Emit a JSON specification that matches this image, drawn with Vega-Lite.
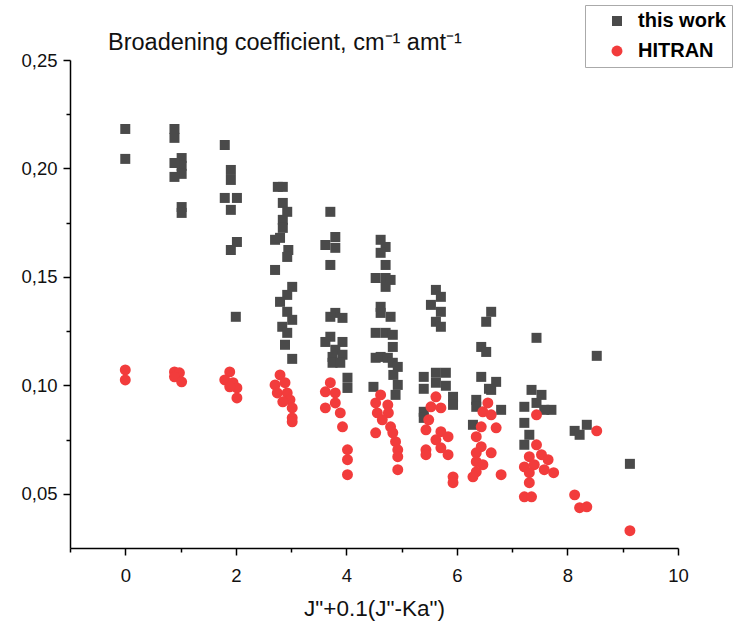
{
  "$schema": "https://vega.github.io/schema/vega-lite/v6.json",
  "width": 608,
  "height": 488,
  "autosize": "none",
  "padding": {"left": 70, "top": 60, "right": 58, "bottom": 77},
  "background": "white",
  "config": {"view": {"stroke": null}, "font": "Liberation Sans"},
  "title": {"text": "Broadening coefficient, cm⁻¹ amt⁻¹", "anchor": "start", "frame": "group", "dx": 38, "dy": 56, "offset": 6, "fontSize": 23.5, "fontWeight": "normal", "font": "Liberation Sans", "color": "#111"},
  "data": {"values": [
    {"s":"this work","x":0,"y":0.2182},{"s":"this work","x":0,"y":0.2044},
    {"s":"this work","x":0.89,"y":0.2182},{"s":"this work","x":0.89,"y":0.2141},{"s":"this work","x":1.02,"y":0.2048},{"s":"this work","x":1.02,"y":0.2012},{"s":"this work","x":1.02,"y":0.1975},{"s":"this work","x":0.89,"y":0.2025},{"s":"this work","x":0.89,"y":0.1961},{"s":"this work","x":1.02,"y":0.1822},{"s":"this work","x":1.02,"y":0.1795},
    {"s":"this work","x":1.8,"y":0.2108},{"s":"this work","x":1.91,"y":0.1993},{"s":"this work","x":1.91,"y":0.1947},{"s":"this work","x":1.8,"y":0.1864},{"s":"this work","x":2.02,"y":0.1864},{"s":"this work","x":1.91,"y":0.1809},{"s":"this work","x":2.02,"y":0.1661},{"s":"this work","x":1.91,"y":0.1624},{"s":"this work","x":2.0,"y":0.1316},
    {"s":"this work","x":2.76,"y":0.1915},{"s":"this work","x":2.85,"y":0.1915},{"s":"this work","x":2.85,"y":0.1841},{"s":"this work","x":2.93,"y":0.18},{"s":"this work","x":2.85,"y":0.1763},{"s":"this work","x":2.85,"y":0.1726},{"s":"this work","x":2.71,"y":0.1671},{"s":"this work","x":2.8,"y":0.168},{"s":"this work","x":2.95,"y":0.1624},{"s":"this work","x":2.93,"y":0.1592},{"s":"this work","x":2.71,"y":0.1532},{"s":"this work","x":3.02,"y":0.1454},{"s":"this work","x":2.93,"y":0.1417},{"s":"this work","x":2.8,"y":0.1385},{"s":"this work","x":2.93,"y":0.1339},{"s":"this work","x":3.02,"y":0.1302},{"s":"this work","x":2.84,"y":0.127},{"s":"this work","x":2.93,"y":0.1242},{"s":"this work","x":2.89,"y":0.1187},{"s":"this work","x":3.02,"y":0.1122},
    {"s":"this work","x":3.71,"y":0.18},{"s":"this work","x":3.8,"y":0.1684},{"s":"this work","x":3.62,"y":0.1647},{"s":"this work","x":3.8,"y":0.1634},{"s":"this work","x":3.71,"y":0.1555},{"s":"this work","x":3.8,"y":0.1334},{"s":"this work","x":3.71,"y":0.1316},{"s":"this work","x":3.93,"y":0.1311},{"s":"this work","x":3.71,"y":0.1224},{"s":"this work","x":3.62,"y":0.12},{"s":"this work","x":3.93,"y":0.12},{"s":"this work","x":3.8,"y":0.1164},{"s":"this work","x":3.75,"y":0.1131},{"s":"this work","x":3.93,"y":0.1141},{"s":"this work","x":3.75,"y":0.1104},{"s":"this work","x":3.89,"y":0.1104},{"s":"this work","x":4.02,"y":0.1035},{"s":"this work","x":4.02,"y":0.0988},
    {"s":"this work","x":4.62,"y":0.1671},{"s":"this work","x":4.71,"y":0.1638},{"s":"this work","x":4.62,"y":0.1611},{"s":"this work","x":4.71,"y":0.1555},{"s":"this work","x":4.53,"y":0.1495},{"s":"this work","x":4.71,"y":0.1495},{"s":"this work","x":4.8,"y":0.1486},{"s":"this work","x":4.71,"y":0.1454},{"s":"this work","x":4.62,"y":0.1362},{"s":"this work","x":4.62,"y":0.1334},{"s":"this work","x":4.8,"y":0.1316},{"s":"this work","x":4.53,"y":0.1242},{"s":"this work","x":4.71,"y":0.1242},{"s":"this work","x":4.84,"y":0.1233},{"s":"this work","x":4.84,"y":0.1177},{"s":"this work","x":4.53,"y":0.1127},{"s":"this work","x":4.62,"y":0.1131},{"s":"this work","x":4.75,"y":0.1127},{"s":"this work","x":4.84,"y":0.1104},{"s":"this work","x":4.93,"y":0.1085},{"s":"this work","x":4.49,"y":0.0993},{"s":"this work","x":4.85,"y":0.1048},{"s":"this work","x":4.93,"y":0.1002},{"s":"this work","x":4.89,"y":0.0956},
    {"s":"this work","x":5.62,"y":0.144},{"s":"this work","x":5.71,"y":0.1408},{"s":"this work","x":5.53,"y":0.1371},{"s":"this work","x":5.71,"y":0.1339},{"s":"this work","x":5.62,"y":0.1293},{"s":"this work","x":5.71,"y":0.127},{"s":"this work","x":5.4,"y":0.1039},{"s":"this work","x":5.62,"y":0.1058},{"s":"this work","x":5.8,"y":0.1058},{"s":"this work","x":5.4,"y":0.0984},{"s":"this work","x":5.62,"y":0.1012},{"s":"this work","x":5.8,"y":0.0998},{"s":"this work","x":5.93,"y":0.0947},{"s":"this work","x":5.93,"y":0.091},{"s":"this work","x":5.4,"y":0.0878},{"s":"this work","x":5.4,"y":0.085},
    {"s":"this work","x":6.62,"y":0.1339},{"s":"this work","x":6.53,"y":0.1293},{"s":"this work","x":6.44,"y":0.1177},{"s":"this work","x":6.53,"y":0.1154},{"s":"this work","x":6.44,"y":0.1039},{"s":"this work","x":6.71,"y":0.1016},{"s":"this work","x":6.58,"y":0.0984},{"s":"this work","x":6.62,"y":0.0979},{"s":"this work","x":6.35,"y":0.0933},{"s":"this work","x":6.35,"y":0.0901},{"s":"this work","x":6.8,"y":0.0887},{"s":"this work","x":6.29,"y":0.0818},
    {"s":"this work","x":7.44,"y":0.1219},{"s":"this work","x":7.35,"y":0.0979},{"s":"this work","x":7.53,"y":0.0956},{"s":"this work","x":7.44,"y":0.0919},{"s":"this work","x":7.71,"y":0.0887},{"s":"this work","x":7.58,"y":0.0887},{"s":"this work","x":7.22,"y":0.0901},{"s":"this work","x":7.22,"y":0.0827},{"s":"this work","x":7.31,"y":0.0772},{"s":"this work","x":7.22,"y":0.0726},
    {"s":"this work","x":8.13,"y":0.079},{"s":"this work","x":8.22,"y":0.0772},{"s":"this work","x":8.35,"y":0.0818},{"s":"this work","x":8.53,"y":0.1136},{"s":"this work","x":9.13,"y":0.0638},
    {"s":"HITRAN","x":0,"y":0.1071},{"s":"HITRAN","x":0,"y":0.1025},
    {"s":"HITRAN","x":0.89,"y":0.1062},{"s":"HITRAN","x":0.98,"y":0.1058},{"s":"HITRAN","x":0.89,"y":0.1039},{"s":"HITRAN","x":1.02,"y":0.1016},
    {"s":"HITRAN","x":1.89,"y":0.1062},{"s":"HITRAN","x":1.8,"y":0.1025},{"s":"HITRAN","x":1.95,"y":0.1012},{"s":"HITRAN","x":2.02,"y":0.0988},{"s":"HITRAN","x":1.89,"y":0.0993},{"s":"HITRAN","x":2.02,"y":0.0942},
    {"s":"HITRAN","x":2.8,"y":0.1048},{"s":"HITRAN","x":2.71,"y":0.1002},{"s":"HITRAN","x":2.89,"y":0.1012},{"s":"HITRAN","x":2.75,"y":0.0965},{"s":"HITRAN","x":2.93,"y":0.0965},{"s":"HITRAN","x":2.98,"y":0.0933},{"s":"HITRAN","x":2.85,"y":0.0924},{"s":"HITRAN","x":3.02,"y":0.0896},{"s":"HITRAN","x":3.02,"y":0.085},{"s":"HITRAN","x":3.02,"y":0.0832},
    {"s":"HITRAN","x":3.71,"y":0.1012},{"s":"HITRAN","x":3.62,"y":0.097},{"s":"HITRAN","x":3.8,"y":0.0965},{"s":"HITRAN","x":3.62,"y":0.0896},{"s":"HITRAN","x":3.8,"y":0.0919},{"s":"HITRAN","x":3.89,"y":0.0873},{"s":"HITRAN","x":3.93,"y":0.0809},{"s":"HITRAN","x":4.02,"y":0.0703},{"s":"HITRAN","x":4.02,"y":0.0657},{"s":"HITRAN","x":4.02,"y":0.0588},
    {"s":"HITRAN","x":4.62,"y":0.0956},{"s":"HITRAN","x":4.53,"y":0.0919},{"s":"HITRAN","x":4.75,"y":0.091},{"s":"HITRAN","x":4.56,"y":0.0873},{"s":"HITRAN","x":4.76,"y":0.0873},{"s":"HITRAN","x":4.65,"y":0.0841},{"s":"HITRAN","x":4.8,"y":0.0809},{"s":"HITRAN","x":4.53,"y":0.0781},{"s":"HITRAN","x":4.84,"y":0.0781},{"s":"HITRAN","x":4.89,"y":0.074},{"s":"HITRAN","x":4.93,"y":0.0703},{"s":"HITRAN","x":4.93,"y":0.0671},{"s":"HITRAN","x":4.93,"y":0.0611},
    {"s":"HITRAN","x":5.62,"y":0.0947},{"s":"HITRAN","x":5.53,"y":0.0901},{"s":"HITRAN","x":5.71,"y":0.0896},{"s":"HITRAN","x":5.49,"y":0.0841},{"s":"HITRAN","x":5.44,"y":0.0795},{"s":"HITRAN","x":5.71,"y":0.0786},{"s":"HITRAN","x":5.84,"y":0.0763},{"s":"HITRAN","x":5.62,"y":0.0749},{"s":"HITRAN","x":5.44,"y":0.0703},{"s":"HITRAN","x":5.71,"y":0.0712},{"s":"HITRAN","x":5.84,"y":0.068},{"s":"HITRAN","x":5.44,"y":0.068},{"s":"HITRAN","x":5.93,"y":0.0578},{"s":"HITRAN","x":5.93,"y":0.0551},
    {"s":"HITRAN","x":6.56,"y":0.0919},{"s":"HITRAN","x":6.47,"y":0.0878},{"s":"HITRAN","x":6.62,"y":0.0864},{"s":"HITRAN","x":6.71,"y":0.0804},{"s":"HITRAN","x":6.44,"y":0.0809},{"s":"HITRAN","x":6.35,"y":0.0763},{"s":"HITRAN","x":6.44,"y":0.0717},{"s":"HITRAN","x":6.62,"y":0.0689},{"s":"HITRAN","x":6.35,"y":0.0689},{"s":"HITRAN","x":6.35,"y":0.0648},{"s":"HITRAN","x":6.47,"y":0.0634},{"s":"HITRAN","x":6.35,"y":0.0601},{"s":"HITRAN","x":6.29,"y":0.0578},{"s":"HITRAN","x":6.8,"y":0.0588},
    {"s":"HITRAN","x":7.44,"y":0.0864},{"s":"HITRAN","x":7.44,"y":0.0726},{"s":"HITRAN","x":7.31,"y":0.0671},{"s":"HITRAN","x":7.53,"y":0.068},{"s":"HITRAN","x":7.65,"y":0.0657},{"s":"HITRAN","x":7.22,"y":0.0624},{"s":"HITRAN","x":7.4,"y":0.0634},{"s":"HITRAN","x":7.58,"y":0.0611},{"s":"HITRAN","x":7.75,"y":0.0597},{"s":"HITRAN","x":7.31,"y":0.0597},{"s":"HITRAN","x":7.31,"y":0.0551},{"s":"HITRAN","x":7.22,"y":0.0486},{"s":"HITRAN","x":7.35,"y":0.0486},
    {"s":"HITRAN","x":8.13,"y":0.0495},{"s":"HITRAN","x":8.22,"y":0.0436},{"s":"HITRAN","x":8.35,"y":0.044},{"s":"HITRAN","x":8.53,"y":0.079},{"s":"HITRAN","x":9.13,"y":0.033}
  ]},
  "mark": {"type": "point", "filled": true, "opacity": 1},
  "encoding": {
    "x": {"field": "x", "type": "quantitative", "scale": {"domain": [-1, 10], "nice": false, "zero": false},
      "axis": {"title": "J\"+0.1(J\"-Ka\")", "values": [-1,0,1,2,3,4,5,6,7,8,9,10], "grid": false, "domainColor": "#000", "domainWidth": 1.5, "tickColor": "#000", "tickWidth": 1.5,
        "tickSize": {"condition": {"test": "datum.value % 2 == 0", "value": 7}, "value": 4},
        "labelExpr": "datum.value % 2 == 0 && datum.value >= 0 ? datum.label : ''",
        "labelFontSize": 18.5, "labelColor": "#111", "labelPadding": 11, "labelOverlap": false, "labelFlush": false,
        "titleFontSize": 22.5, "titleFontWeight": "normal", "titleColor": "#111", "titlePadding": 13}},
    "y": {"field": "y", "type": "quantitative", "scale": {"domain": [0.025, 0.25], "nice": false, "zero": false},
      "axis": {"title": null, "values": [0.05,0.075,0.1,0.125,0.15,0.175,0.2,0.225,0.25], "grid": false, "domainColor": "#000", "domainWidth": 1.5, "tickColor": "#000", "tickWidth": 1.5,
        "tickSize": {"condition": {"test": "round(datum.value*40) % 2 == 0", "value": 7}, "value": 4},
        "labelExpr": "round(datum.value*40) % 2 == 0 ? replace(format(datum.value, '.2f'), '.', ',') : ''",
        "labelFontSize": 18.5, "labelColor": "#111", "labelPadding": 6, "labelOverlap": false, "labelFlush": false}},
    "color": {"field": "s", "type": "nominal", "sort": ["this work", "HITRAN"], "scale": {"domain": ["this work", "HITRAN"], "range": ["#4a4a4a", "#f23c3c"]},
      "legend": {"title": null, "orient": "none", "legendX": 515, "legendY": -55, "labelFontSize": 20, "labelFontWeight": "bold", "labelColor": "#000", "symbolSize": 110, "rowPadding": 10, "padding": 6, "strokeColor": "#aaa", "fillColor": "white", "symbolOffset": 16, "labelOffset": 11}},
    "shape": {"field": "s", "type": "nominal", "sort": ["this work", "HITRAN"], "scale": {"domain": ["this work", "HITRAN"], "range": ["square", "circle"]}, "legend": {"title": null}},
    "size": {"field": "s", "type": "nominal", "scale": {"domain": ["this work", "HITRAN"], "range": [100, 120]}, "legend": null},
    "order": {"field": "s", "sort": "descending"}
  }
}
